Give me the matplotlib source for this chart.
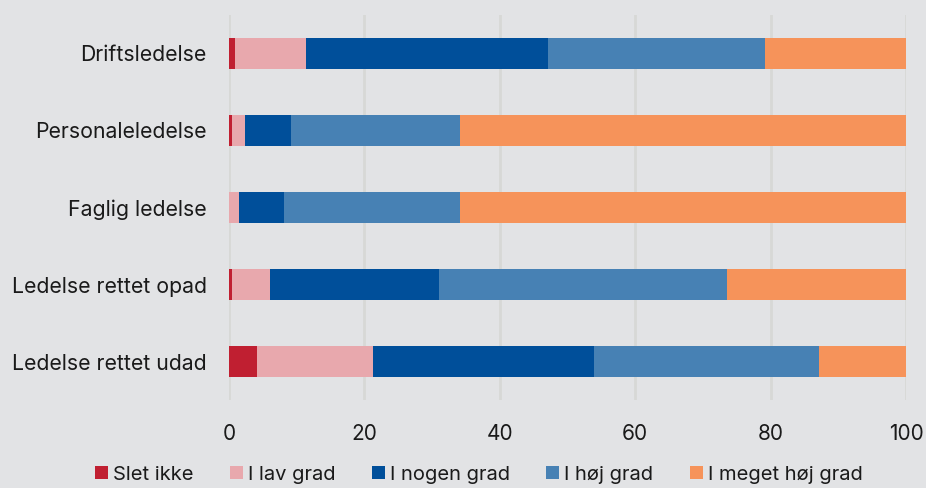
import matplotlib
matplotlib.use("Agg")
import matplotlib.pyplot as plt
import numpy as np

plt.rcParams['font.family'] = ['Inter', 'DejaVu Sans']

categories = ["Driftsledelse", "Personaleledelse", "Faglig ledelse",
              "Ledelse rettet opad", "Ledelse rettet udad"]
series_names = ["Slet ikke", "I lav grad", "I nogen grad", "I høj grad", "I meget høj grad"]
slet_ikke = [0.9, 0.4, 0.0, 0.4, 4.2]
lav_grad = [10.4, 2.0, 1.5, 5.7, 17.1]
nogen_grad = [35.8, 6.8, 6.6, 24.9, 32.6]
hoej_grad = [32.1, 24.9, 26.0, 42.6, 33.2]
meget_hoej_grad = [20.8, 65.9, 65.9, 26.4, 12.9]
xticks = [0, 20, 40, 60, 80, 100]

colors = ["#c01f31", "#e8a8ad", "#004f9a", "#4781b4", "#f6935a"]
bg = "#e2e3e5"

fig = plt.figure(figsize=(9.26, 4.88), dpi=100, facecolor=bg)
ax = fig.add_axes([0.2473, 0.1803, 0.7311, 0.789])
ax.set_facecolor(bg)

y = np.arange(len(categories))
left = np.zeros(len(categories))
for name, vals, c in zip(series_names,
                         [slet_ikke, lav_grad, nogen_grad, hoej_grad, meget_hoej_grad],
                         colors):
    vals = np.array(vals)
    ax.barh(y, vals, left=left, height=0.4, color=c, label=name, zorder=3)
    left += vals

ax.set_xlim(0, 100)
ax.set_ylim(4.5, -0.5)
ax.set_yticks(y)
ax.set_yticklabels(categories, fontsize=15.3, color="#1a1a1a")
ax.set_xticks(xticks)
ax.set_xticklabels([str(t) for t in xticks], fontsize=15, color="#1a1a1a")
ax.tick_params(axis='both', length=0)
ax.tick_params(axis='x', pad=17)
ax.tick_params(axis='y', pad=16)
for s in ax.spines.values():
    s.set_visible(False)
ax.grid(axis='x', color="#d7d8d6", linewidth=2, zorder=0)

fig.legend(loc='center', bbox_to_anchor=(0.517, 0.027), ncol=5, frameon=False,
           fontsize=14.5, handlelength=0.65, handleheight=0.65, handletextpad=0.25,
           columnspacing=1.8, labelcolor="#1a1a1a", borderpad=0.1)

fig.savefig("out.png", dpi=100, facecolor=bg)
